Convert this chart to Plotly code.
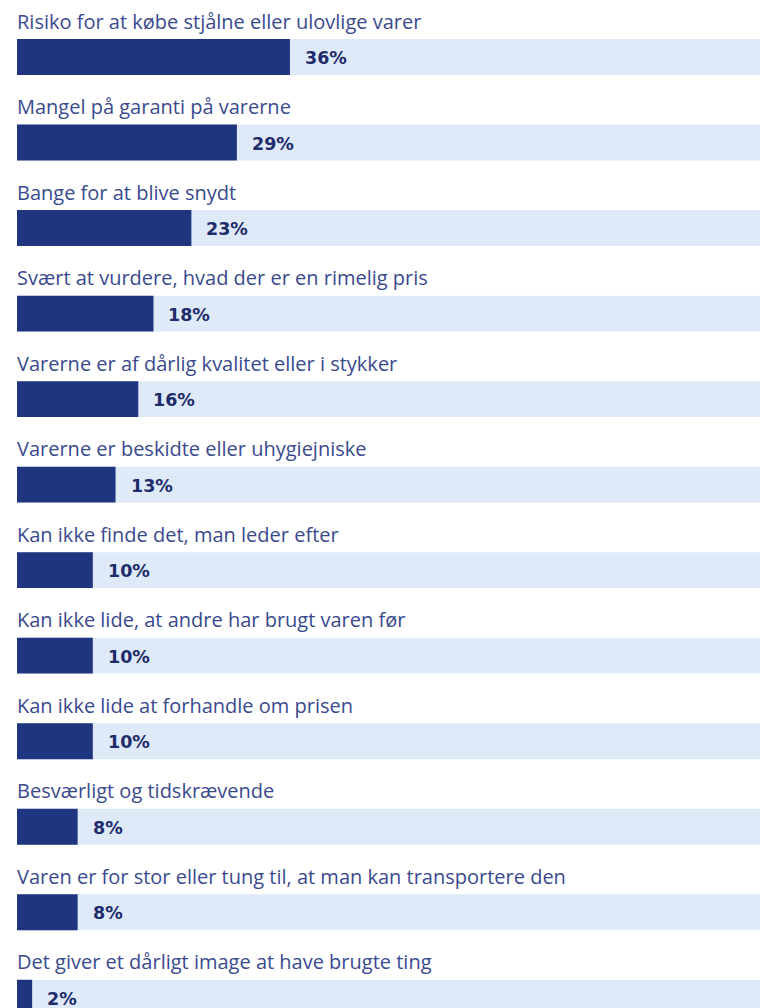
import plotly.graph_objects as go

categories = [
    "Risiko for at købe stjålne eller ulovlige varer",
    "Mangel på garanti på varerne",
    "Bange for at blive snydt",
    "Svært at vurdere, hvad der er en rimelig pris",
    "Varerne er af dårlig kvalitet eller i stykker",
    "Varerne er beskidte eller uhygiejniske",
    "Kan ikke finde det, man leder efter",
    "Kan ikke lide, at andre har brugt varen før",
    "Kan ikke lide at forhandle om prisen",
    "Besværligt og tidskrævende",
    "Varen er for stor eller tung til, at man kan transportere den",
    "Det giver et dårligt image at have brugte ting",
]
values = [36, 29, 23, 18, 16, 13, 10, 10, 10, 8, 8, 2]
full = [100] * len(values)
pct_labels = [f"{v}%" for v in values]

DARK = "#1f3580"
LIGHT = "#dfeaf9"
LABEL_C = "#3a4a8e"
PCT_C = "#1e2c6b"

idx = list(range(len(categories)))
fig = go.Figure()
fig.add_trace(go.Bar(x=full, y=idx, orientation="h", marker=dict(color=LIGHT, line=dict(width=0)),
                     width=0.42, hoverinfo="skip"))
fig.add_trace(go.Bar(x=values, y=idx, orientation="h", marker=dict(color=DARK, line=dict(width=0)),
                     width=0.42, hoverinfo="skip"))

for i, (c, v, p) in enumerate(zip(categories, values, pct_labels)):
    fig.add_annotation(x=0, y=i, xref="x", yref="y", text=c, showarrow=False,
                       xanchor="left", yanchor="middle", yshift=36, xshift=-2,
                       font=dict(family="Open Sans", size=20, color=LABEL_C))
    fig.add_annotation(x=v, y=i, xref="x", yref="y", text=p, showarrow=False,
                       xanchor="left", yanchor="middle", xshift=13, yshift=-1,
                       font=dict(family="DejaVu Sans", size=17.5, color=PCT_C, weight="bold"))

fig.update_layout(
    width=760, height=1008, barmode="overlay", showlegend=False,
    margin=dict(l=17, r=0, t=0, b=0),
    paper_bgcolor="white", plot_bgcolor="white",
    xaxis=dict(range=[0, 98.0], visible=False, fixedrange=True),
    yaxis=dict(range=[11.12, -0.667], visible=False, fixedrange=True),
)
fig.write_html("out.html", config={"displayModeBar": False},
               post_script="document.body.style.margin='0';document.body.style.overflow='hidden';")
